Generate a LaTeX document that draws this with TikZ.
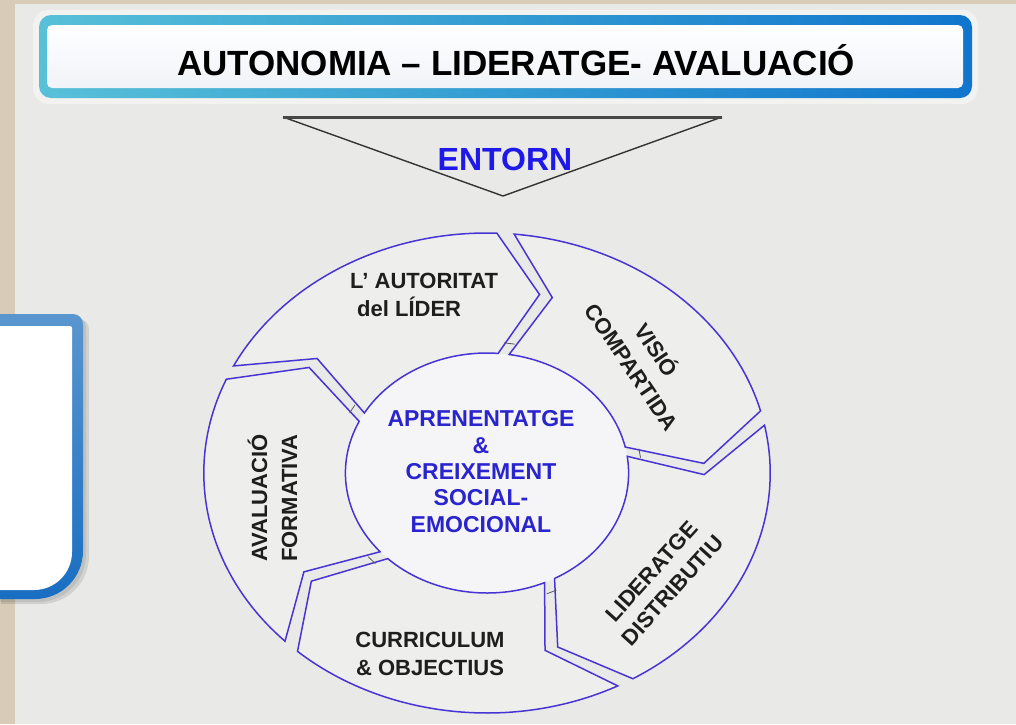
\documentclass[tikz,border=0pt]{standalone}
\usepackage{fontspec}
\setmainfont{Liberation Sans}
\definecolor{bgc}{RGB}{233,233,231}
\definecolor{beigec}{RGB}{216,204,184}
\definecolor{ringc}{RGB}{72,52,212}
\definecolor{segfill}{RGB}{238,238,236}
\definecolor{centerfill}{RGB}{245,245,247}
\definecolor{entornc}{RGB}{30,24,232}
\definecolor{centertxt}{RGB}{42,36,206}
\definecolor{tbl}{RGB}{88,192,216}
\definecolor{tbr}{RGB}{16,118,205}
\definecolor{lbt}{RGB}{90,150,206}
\definecolor{lbb}{RGB}{24,110,194}
\definecolor{labelc}{RGB}{30,30,30}
% ring segment: #1 = angle of the gap at its tail, #2 = angle of the gap at its head
\newcommand\ringseg[2]{%
  \draw[segline] ({#1-3.5}:240) arc[start angle={#1-3.5}, end angle={#2}, radius=240]
    -- ({#2-12}:184) -- ({#2-2.5}:120)
    arc[start angle={#2-2.5}, end angle={#1-7}, radius=120]
    -- ({#1-15.5}:184) -- cycle;}
\newcommand\gaptick[1]{\draw[gapline] ({#1-4.3}:131) -- ({#1-8.3}:131);}
\begin{document}
\begin{tikzpicture}[x=1pt,y=-1pt,
  segline/.style={draw=ringc, line width=1.5pt, fill=segfill, line join=miter},
  gapline/.style={draw=black!65, line width=0.8pt},
  lbl/.style={font=\bfseries\fontsize{22}{28}\selectfont, text=labelc, align=center, inner sep=0pt},
  ctr/.style={font=\bfseries\fontsize{23}{26.3}\selectfont, text=centertxt, align=center, inner sep=0pt}]
\useasboundingbox (0,0) rectangle (1016,724);
% background
\fill[bgc] (0,0) rectangle (1016,724);
\fill[beigec] (0,0) rectangle (15,724);
\fill[beigec] (0,0) rectangle (1016,4);
% title box
\fill[white, opacity=0.45, rounded corners=16] (33,10) rectangle (978,104);
\shade[left color=tbl, right color=tbr, rounded corners=12] (39,15) rectangle (972,98);
\shade[top color=white, bottom color={rgb,255:red,240;green,243;blue,248}, rounded corners=5] (47,25) rectangle (963,88);
\node[font=\bfseries\fontsize{35}{40}\selectfont, anchor=base, inner sep=0pt] (title) at (516,75) {AUTONOMIA – LIDERATGE- AVALUACIÓ};
% left box
\fill[black, opacity=0.10, shift={(6,5)}] (-5,314) -- (73,314) .. controls (78.5,314) and (83,318.5) .. (83,324) -- (83,551) .. controls (83,577.5) and (61.5,599) .. (35,599) -- (-5,599) -- cycle;
\fill[black, opacity=0.08, shift={(3,3)}] (-5,314) -- (73,314) .. controls (78.5,314) and (83,318.5) .. (83,324) -- (83,551) .. controls (83,577.5) and (61.5,599) .. (35,599) -- (-5,599) -- cycle;
\shade[top color=lbt, bottom color=lbb] (-5,314) -- (73,314) .. controls (78.5,314) and (83,318.5) .. (83,324) -- (83,551) .. controls (83,577.5) and (61.5,599) .. (35,599) -- (-5,599) -- cycle;
\fill[white] (-5,326) -- (70,326) .. controls (71.1,326) and (72,326.9) .. (72,328) -- (72,552) .. controls (72,573) and (55,590) .. (34,590) -- (-5,590) -- cycle;
% triangle ENTORN
\coordinate (tl) at (283,117);
\coordinate (tr) at (722,117);
\coordinate (tb) at (503,196);
\draw[line width=1.4pt, draw=black!80, line join=round] (tl) -- (tb) -- (tr);
\draw[line width=3pt, draw=black!72] (tl) -- (tr);
\node[font=\bfseries\fontsize{32}{36}\selectfont, text=entornc, anchor=base, inner sep=0pt] (entorn) at (505,170) {ENTORN};
% cycle
\begin{scope}[shift={(487,473)}, xscale=1.18, yscale=-1]
  \fill[centerfill] (0,0) circle[radius=120];
  \ringseg{157}{88}
  \ringseg{88}{15}
  \ringseg{15}{-59}
  \ringseg{-59}{-132}
  \ringseg{-132}{-203}
  \gaptick{88}
  \gaptick{15}
  \gaptick{-59}
  \gaptick{-132}
  \gaptick{157}
\end{scope}
% labels
\node[ctr] (core) at (481,471.5) {APRENENTATGE\\\&\\CREIXEMENT\\SOCIAL-\\EMOCIONAL};
\node[lbl, align=left, anchor=west] (autoritat) at (350,294.5) {L{\char39} AUTORITAT\\\hspace*{7pt}del LÍDER};
\node[lbl, rotate=-56, font=\bfseries\fontsize{22}{30}\selectfont] (visio) at (645.5,357.5) {VISIÓ\\COMPARTIDA};
\node[lbl, rotate=48] (lideratge) at (662,581) {LIDERATGE\\DISTRIBUTIU};
\node[lbl] (curriculum) at (430,654) {CURRICULUM\\\& OBJECTIUS};
\node[lbl, rotate=90, font=\bfseries\fontsize{22}{30}\selectfont] (avaluacio) at (272.5,498) {AVALUACIÓ\\FORMATIVA};
\end{tikzpicture}
\end{document}
